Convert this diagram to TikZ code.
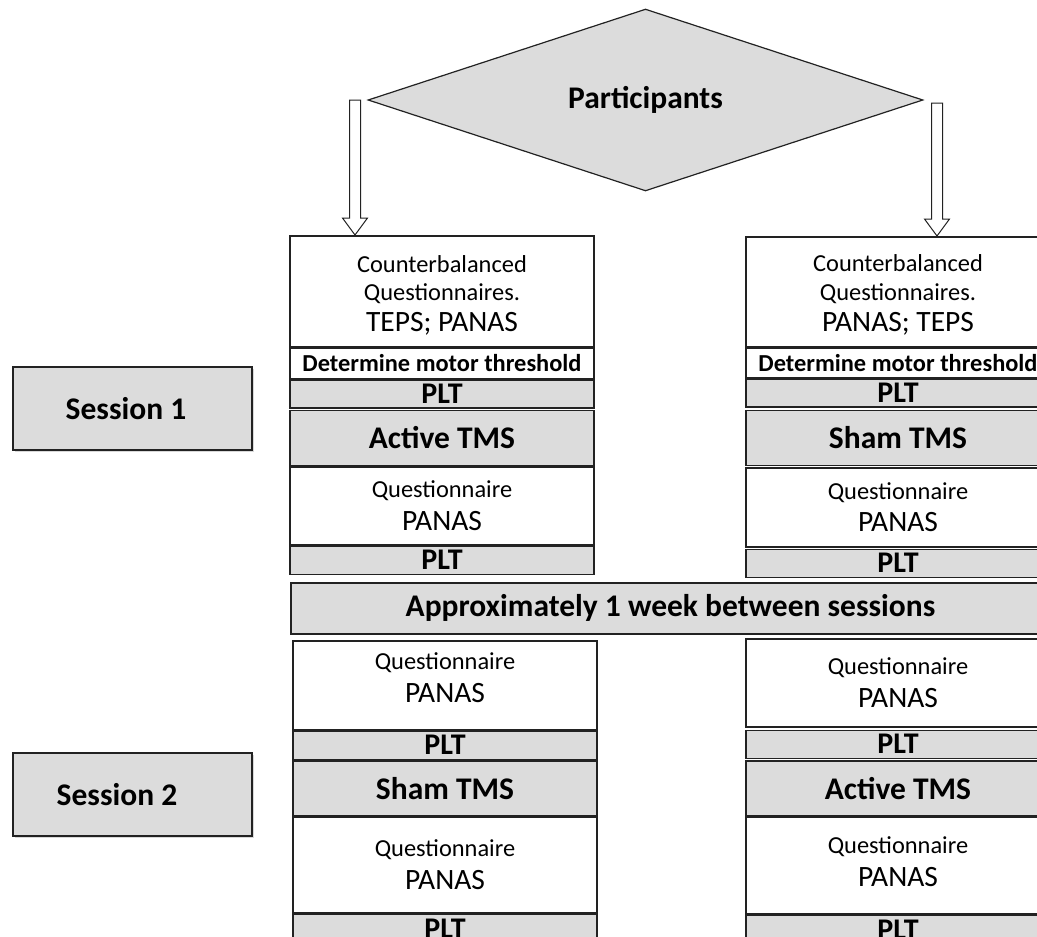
\documentclass[tikz,border=0pt]{standalone}
\usepackage{fontspec}
\setmainfont{Carlito}
\usetikzlibrary{positioning,shapes.geometric,calc,shadows}

\definecolor{boxgray}{HTML}{DCDCDC}
\definecolor{linec}{HTML}{222222}

\newcommand{\largeline}{\fontsize{29.5}{29.8}\selectfont}

\tikzset{
    fatarrow/.style={draw=linec, line width=1pt, fill=white,
        to path={let \p1=(\tikztostart), \p2=(\tikztotarget) in
            (\x1-5.5pt,\y1) -- (\x1-5.5pt,\y2+17pt) -- (\x1-12.5pt,\y2+17pt) -- (\x2,\y2)
            -- (\x1+12.5pt,\y2+17pt) -- (\x1+5.5pt,\y2+17pt) -- (\x1+5.5pt,\y1) -- cycle}}
}

\begin{document}
\begin{tikzpicture}[x=1pt, y=-1pt,
        cell/.style={draw=linec, line width=1.5pt, fill=white, minimum width=304pt,
            inner sep=0pt, align=center, font=\fontsize{24.4}{29.8}\selectfont},
        boldcell/.style={cell, font=\bfseries\fontsize{24.4}{29.8}\selectfont},
        plt/.style={cell, fill=boxgray, minimum height=28pt, font=\bfseries\fontsize{30}{30}\selectfont},
        tms/.style={cell, fill=boxgray, minimum height=55pt, font=\bfseries\fontsize{31.5}{36}\selectfont},
        session/.style={draw=linec, line width=1.5pt, fill=boxgray, minimum width=239pt, minimum height=83pt,
            inner sep=0pt, font=\bfseries\fontsize{31.5}{36}\selectfont,
            drop shadow={shadow xshift=2pt, shadow yshift=-2pt, fill=gray!60}}
    ]
        \clip (0,0) rectangle (1037,937);

        % Participants
        \node[diamond, draw=linec, line width=1.2pt, fill=boxgray, minimum width=555pt, minimum height=162pt,
            inner sep=0pt, font=\bfseries\fontsize{31.5}{36}\selectfont] (part) at (645.5,100) {Participants};

        % Session labels
        \node[session] (sess1) at (132.5,408.5) {Session 1\hspace*{13pt}};
        \node[session] (sess2) at (132.5,794.5) {Session 2\hspace*{31pt}};

        % Session 1, left
        \node[cell, minimum height=111pt, text height=84pt, anchor=north] (la1) at (442,235) {Counterbalanced\\[-2pt]Questionnaires.\\[1pt]{\largeline TEPS; PANAS}};
        \node[boldcell, minimum height=30pt, below=0pt of la1] (la2) {Determine motor threshold};
        \node[plt, below=0pt of la2] (la3) {PLT};
        \node[tms, below=1pt of la3] (la4) {Active TMS};
        \node[cell, minimum height=78pt, below=0pt of la4] (la5) {Questionnaire\\[3pt]{\largeline PANAS}};
        \node[plt, below=0pt of la5] (la6) {PLT};

        % Session 1, right
        \node[cell, minimum height=110pt, text height=83pt, anchor=north] (ra1) at (898,236) {Counterbalanced\\[-1pt]Questionnaires.\\[1pt]{\largeline PANAS; TEPS}};
        \node[boldcell, minimum height=29pt, below=0pt of ra1] (ra2) {Determine motor threshold};
        \node[plt, below=0pt of ra2] (ra3) {PLT};
        \node[tms, below=2pt of ra3] (ra4) {Sham TMS};
        \node[cell, minimum height=79pt, below=1pt of ra4] (ra5) {Questionnaire\\[3pt]{\largeline PANAS}};
        \node[plt, below=1pt of ra5] (ra6) {PLT};

        % between sessions
        \node[tms, minimum width=759pt, minimum height=51pt, anchor=north] (week) at (670.5,582) {Approximately 1 week between sessions};

        % Session 2, left
        \node[cell, minimum height=89pt, text depth=16pt, anchor=north] (lb1) at (445,640) {Questionnaire\\[3pt]{\largeline PANAS}};
        \node[plt, below=0pt of lb1] (lb2) {PLT};
        \node[tms, below=0pt of lb2] (lb3) {Sham TMS};
        \node[cell, minimum height=95pt, below=0pt of lb3] (lb4) {Questionnaire\\[3pt]{\largeline PANAS}};
        \node[plt, minimum height=30pt, below=0pt of lb4] (lb5) {PLT};

        % Session 2, right
        \node[cell, minimum height=88pt, anchor=north] (rb1) at (898,638) {Questionnaire\\[3pt]{\largeline PANAS}};
        \node[plt, below=2pt of rb1] (rb2) {PLT};
        \node[tms, below=1pt of rb2] (rb3) {Active TMS};
        \node[cell, minimum height=96pt, text depth=8pt, below=0pt of rb3] (rb4) {Questionnaire\\[3pt]{\largeline PANAS}};
        \node[plt, minimum height=30pt, below=0pt of rb4] (rb5) {PLT};

        % arrows from participants
        \coordinate (al) at (355,100);
        \coordinate (ar) at (937,103);
        \draw[fatarrow] (al) to (la1.north -| al);
        \draw[fatarrow] (ar) to (ra1.north -| ar);
    \end{tikzpicture}
\end{document}
